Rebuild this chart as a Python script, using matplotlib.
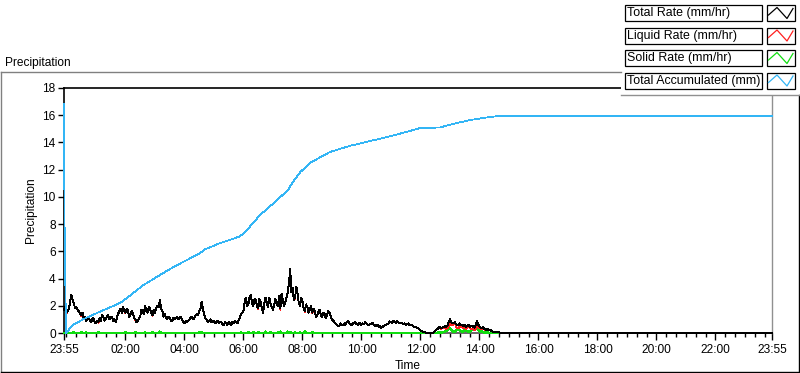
import numpy as np
import matplotlib
matplotlib.use("Agg")
import matplotlib.pyplot as plt
from matplotlib.patches import Rectangle

plt.rcParams['font.family'] = ['Liberation Sans', 'DejaVu Sans']

# ---------------- data ----------------
# rate series sampled every 2.5 minutes starting 23:55 (previous day) up to 14:55,
# followed by one final point at 23:55 (end of day); one line = 30 minutes
total_rate = [
    1.7, 1.9, 1.5, 1.6, 1.8, 2.3, 2.8, 2.4, 2.2, 1.8, 1.9, 1.7,
    1.6, 1.4, 1.3, 1.5, 1.1, 1.2, 0.9, 1.0, 1.2, 0.9, 0.8, 1.0,
    1.1, 0.8, 0.7, 0.9, 0.8, 1.1, 0.9, 1.3, 1.2, 0.9, 1.0, 1.2,
    1.3, 1.0, 1.1, 1.2, 0.9, 1.0, 0.8, 1.1, 1.4, 1.6, 1.8, 1.5,
    1.9, 1.6, 1.5, 1.8, 1.7, 1.2, 1.3, 1.6, 1.5, 1.1, 1.0, 0.8,
    0.9, 1.1, 1.2, 1.7, 1.6, 1.4, 2.0, 1.6, 1.5, 1.9, 1.8, 1.5,
    1.3, 1.7, 1.5, 1.8, 2.0, 1.9, 2.4, 1.8, 1.6, 1.2, 1.4, 1.1,
    1.0, 1.2, 1.1, 0.9, 0.9, 1.1, 1.0, 1.1, 1.2, 1.0, 1.1, 1.2,
    1.0, 0.8, 0.7, 0.9, 0.8, 0.9, 1.0, 1.1, 1.2, 1.0, 1.1, 1.3,
    1.4, 1.3, 1.6, 1.8, 2.3, 1.8, 1.4, 1.1, 1.0, 0.8, 0.9, 1.0,
    0.8, 0.9, 0.9, 0.7, 0.8, 0.9, 0.7, 0.8, 0.8, 0.6, 0.6, 0.8,
    0.7, 0.6, 0.8, 0.7, 0.6, 0.8, 0.7, 0.9, 0.8, 0.7, 0.9, 1.1,
    1.4, 1.5, 1.6, 2.3, 2.6, 2.0, 2.1, 2.7, 2.8, 2.2, 2.0, 2.5,
    2.4, 2.0, 1.8, 2.5, 2.3, 1.8, 1.5, 2.2, 2.6, 2.2, 1.9, 2.6,
    2.2, 1.9, 1.7, 2.1, 2.5, 2.2, 2.0, 2.7, 1.8, 2.9, 2.4, 2.0,
    2.2, 2.6, 3.0, 3.6, 4.7, 3.0, 3.3, 2.4, 2.6, 3.4, 2.9, 2.2,
    2.0, 2.6, 2.3, 1.8, 1.6, 2.1, 1.9, 1.5, 1.7, 2.0, 1.5, 1.8,
    1.6, 1.2, 1.3, 1.6, 1.7, 1.3, 1.2, 1.5, 1.4, 1.1, 1.3, 1.6,
    1.5, 1.2, 1.0, 0.9, 0.8, 0.7, 0.6, 0.5, 0.5, 0.7, 0.6, 0.6,
    0.7, 0.6, 0.8, 0.9, 0.7, 0.65, 0.6, 0.7, 0.75, 0.8, 0.65, 0.6,
    0.7, 0.75, 0.6, 0.7, 0.65, 0.8, 0.7, 0.6, 0.55, 0.65, 0.7, 0.75,
    0.6, 0.55, 0.5, 0.6, 0.45, 0.5, 0.4, 0.45, 0.5, 0.55, 0.6, 0.65,
    0.7, 0.85, 0.8, 0.75, 0.9, 0.8, 0.75, 0.85, 0.8, 0.7, 0.7, 0.75,
    0.65, 0.7, 0.6, 0.65, 0.7, 0.6, 0.55, 0.6, 0.5, 0.45, 0.45, 0.4,
    0.35, 0.3, 0.2, 0.15, 0.1, 0.07, 0.05, 0.02, 0.0, 0.0, 0.0, 0.0,
    0.0, 0.05, 0.15, 0.25, 0.3, 0.4, 0.45, 0.35, 0.4, 0.45, 0.5, 0.45,
    0.55, 0.8, 1.0, 0.8, 0.7, 0.75, 0.8, 0.65, 0.6, 0.55, 0.7, 0.6,
    0.55, 0.5, 0.6, 0.45, 0.5, 0.6, 0.45, 0.5, 0.55, 0.45, 0.4, 0.6,
    0.9, 0.6, 0.5, 0.4, 0.35, 0.45, 0.3, 0.25, 0.25, 0.3, 0.2, 0.2,
    0.15, 0.1, 0.1, 0.1, 0.1, 0.07, 0.05, 0.02, 0.0, 0.0, 0.0, 0.0,
    0.0,
    0.0]

liquid_rate = [
    1.7, 1.9, 1.45, 1.6, 1.8, 2.3, 2.8, 2.4, 2.15, 1.8, 1.9, 1.7,
    1.6, 1.4, 1.25, 1.5, 1.1, 1.2, 0.85, 1.0, 1.2, 0.9, 0.8, 1.0,
    1.1, 0.8, 0.7, 0.9, 0.75, 1.1, 0.9, 1.3, 1.2, 0.9, 1.0, 1.2,
    1.3, 1.0, 1.1, 1.2, 0.9, 1.0, 0.8, 1.1, 1.4, 1.6, 1.8, 1.5,
    1.9, 1.6, 1.45, 1.8, 1.7, 1.2, 1.3, 1.6, 1.5, 1.1, 0.95, 0.8,
    0.9, 1.1, 1.2, 1.7, 1.6, 1.4, 1.95, 1.6, 1.5, 1.9, 1.8, 1.5,
    1.25, 1.7, 1.5, 1.8, 2.0, 1.9, 2.3, 1.8, 1.6, 1.2, 1.4, 1.1,
    1.0, 1.2, 1.1, 0.9, 0.9, 1.1, 1.0, 1.1, 1.2, 1.0, 1.1, 1.2,
    1.0, 0.8, 0.7, 0.9, 0.8, 0.9, 1.0, 1.1, 1.2, 1.0, 1.1, 1.3,
    1.4, 1.3, 1.55, 1.8, 2.25, 1.8, 1.4, 1.1, 1.0, 0.8, 0.9, 1.0,
    0.8, 0.9, 0.9, 0.7, 0.8, 0.9, 0.7, 0.8, 0.8, 0.6, 0.6, 0.8,
    0.7, 0.6, 0.8, 0.7, 0.6, 0.8, 0.7, 0.9, 0.8, 0.7, 0.9, 1.1,
    1.35, 1.5, 1.6, 2.3, 2.6, 2.0, 2.05, 2.7, 2.8, 2.2, 1.95, 2.5,
    2.4, 2.0, 1.75, 2.5, 2.3, 1.8, 1.5, 2.2, 2.5, 2.2, 1.9, 2.6,
    2.15, 1.9, 1.7, 2.1, 2.5, 2.2, 1.95, 2.7, 1.7, 2.9, 2.4, 2.0,
    2.2, 2.6, 2.9, 3.6, 4.65, 3.0, 3.3, 2.4, 2.55, 3.4, 2.9, 2.2,
    1.95, 2.6, 2.3, 1.8, 1.5, 2.1, 1.9, 1.5, 1.7, 2.0, 1.45, 1.8,
    1.6, 1.2, 1.3, 1.6, 1.7, 1.3, 1.2, 1.5, 1.4, 1.1, 1.3, 1.6,
    1.5, 1.2, 1.0, 0.9, 0.8, 0.7, 0.6, 0.5, 0.5, 0.7, 0.6, 0.6,
    0.7, 0.6, 0.8, 0.9, 0.7, 0.65, 0.6, 0.7, 0.75, 0.8, 0.65, 0.6,
    0.7, 0.75, 0.6, 0.7, 0.65, 0.8, 0.7, 0.6, 0.55, 0.65, 0.7, 0.75,
    0.6, 0.55, 0.5, 0.6, 0.45, 0.5, 0.4, 0.45, 0.5, 0.55, 0.6, 0.65,
    0.7, 0.85, 0.8, 0.75, 0.9, 0.8, 0.75, 0.85, 0.8, 0.7, 0.7, 0.75,
    0.65, 0.7, 0.6, 0.65, 0.7, 0.6, 0.55, 0.6, 0.5, 0.45, 0.45, 0.4,
    0.35, 0.3, 0.2, 0.15, 0.1, 0.07, 0.05, 0.02, 0.0, 0.0, 0.0, 0.0,
    0.0, 0.05, 0.15, 0.25, 0.28, 0.37, 0.4, 0.3, 0.35, 0.37, 0.4, 0.3,
    0.35, 0.5, 0.65, 0.55, 0.55, 0.65, 0.7, 0.45, 0.35, 0.35, 0.5, 0.45,
    0.45, 0.35, 0.4, 0.3, 0.35, 0.5, 0.35, 0.3, 0.3, 0.25, 0.2, 0.3,
    0.55, 0.4, 0.35, 0.3, 0.25, 0.4, 0.25, 0.2, 0.2, 0.28, 0.2, 0.2,
    0.15, 0.1, 0.1, 0.1, 0.1, 0.07, 0.05, 0.02, 0.0, 0.0, 0.0, 0.0,
    0.0,
    0.0]

solid_rate = [
    0, 0, 0.05, 0, 0, 0, 0, 0, 0.05, 0, 0, 0,
    0, 0, 0.05, 0, 0, 0, 0.05, 0, 0, 0, 0, 0,
    0, 0, 0, 0, 0.05, 0, 0, 0, 0, 0, 0, 0,
    0, 0, 0, 0, 0, 0, 0, 0, 0, 0, 0, 0,
    0, 0, 0.05, 0, 0, 0, 0, 0, 0, 0, 0.05, 0,
    0, 0, 0, 0, 0, 0, 0.05, 0, 0, 0, 0, 0,
    0.05, 0, 0, 0, 0, 0, 0.1, 0, 0, 0, 0, 0,
    0, 0, 0, 0, 0, 0, 0, 0, 0, 0, 0, 0,
    0, 0, 0, 0, 0, 0, 0, 0, 0, 0, 0, 0,
    0, 0, 0.05, 0, 0.05, 0, 0, 0, 0, 0, 0, 0,
    0, 0, 0, 0, 0, 0, 0, 0, 0, 0, 0, 0,
    0, 0, 0, 0, 0, 0, 0, 0, 0, 0, 0, 0,
    0.05, 0, 0, 0, 0, 0, 0.05, 0, 0, 0, 0.05, 0,
    0, 0, 0.05, 0, 0, 0, 0, 0, 0.1, 0, 0, 0,
    0.05, 0, 0, 0, 0, 0, 0.05, 0, 0.1, 0, 0, 0,
    0, 0, 0.1, 0, 0.05, 0, 0, 0, 0.05, 0, 0, 0,
    0.05, 0, 0, 0, 0.1, 0, 0, 0, 0, 0, 0.05, 0,
    0, 0, 0, 0, 0, 0, 0, 0, 0, 0, 0, 0,
    0, 0, 0, 0, 0, 0, 0, 0, 0, 0, 0, 0,
    0, 0, 0, 0, 0, 0, 0, 0, 0, 0, 0, 0,
    0, 0, 0, 0, 0, 0, 0, 0, 0, 0, 0, 0,
    0, 0, 0, 0, 0, 0, 0, 0, 0, 0, 0, 0,
    0, 0, 0, 0, 0, 0, 0, 0, 0, 0, 0, 0,
    0, 0, 0, 0, 0, 0, 0, 0, 0, 0, 0, 0,
    0, 0, 0, 0, 0, 0, 0, 0, 0, 0, 0, 0,
    0, 0, 0, 0, 0.02, 0.03, 0.05, 0.05, 0.05, 0.08, 0.1, 0.15,
    0.2, 0.3, 0.35, 0.25, 0.15, 0.1, 0.1, 0.2, 0.25, 0.2, 0.2, 0.15,
    0.1, 0.15, 0.2, 0.15, 0.15, 0.1, 0.1, 0.2, 0.25, 0.2, 0.2, 0.3,
    0.35, 0.2, 0.15, 0.1, 0.1, 0.05, 0.05, 0.05, 0.05, 0.02, 0, 0,
    0, 0, 0, 0, 0, 0, 0, 0, 0, 0, 0, 0,
    0,
    0]

# total accumulated: (hours since midnight, mm)
acc_hours = [-0.0833, -0.066, -0.0155, 0.222, 0.561, 1.137, 1.713, 1.917, 2.595, 2.934,
             3.51, 3.849, 4.527, 4.697, 5.205, 5.883, 6.12, 6.561, 7.0, 7.51, 7.646,
             7.917, 8.256, 8.934, 9.61, 10.29, 10.97, 11.65, 11.98, 12.66, 13.0,
             13.68, 14.36, 14.7, 23.9167]
acc_values = [16.8, 8.4, 0.0, 0.59, 1.0, 1.57, 2.1, 2.35, 3.5, 3.95,
              4.7, 5.1, 5.86, 6.15, 6.6, 7.1, 7.57, 8.67, 9.5, 10.5, 11.0,
              11.8, 12.5, 13.3, 13.75, 14.1, 14.45, 14.85, 15.05, 15.1, 15.3,
              15.65, 15.87, 15.95, 15.95]

series_names = ["Total Rate (mm/hr)", "Liquid Rate (mm/hr)",
                "Solid Rate (mm/hr)", "Total Accumulated (mm)"]
series_colors = ["#000000", "#ff2020", "#10dd10", "#33b5f5"]

x_tick_labels = ["23:55", "02:00", "04:00", "06:00", "08:00", "10:00", "12:00",
                 "14:00", "16:00", "18:00", "20:00", "22:00", "23:55"]

# ---------------- figure ----------------
W, H = 800, 373
fig = plt.figure(figsize=(W / 100, H / 100), dpi=100)
fig.patch.set_facecolor("white")

x0, x1, ytop, ybot = 64, 772, 88, 333
ax = fig.add_axes([x0 / W, 1 - ybot / H, (x1 - x0) / W, (ybot - ytop) / H])

start_h = -5 / 60
end_h = 24 - 5 / 60
n = len(total_rate) - 1
rate_t = np.append(start_h + np.arange(n) * 2.5 / 60, end_h)

lw1 = 0.55
ax.plot(rate_t, solid_rate, color=series_colors[2], lw=1.0, zorder=3, clip_on=False, antialiased=False)
ax.plot(rate_t, liquid_rate, color=series_colors[1], lw=lw1, zorder=4, antialiased=False)
ax.plot(rate_t, total_rate, color=series_colors[0], lw=0.7, zorder=5, clip_on=False, antialiased=False)
ax.plot(acc_hours, acc_values, color=series_colors[3], lw=lw1, zorder=6, clip_on=False, antialiased=False)

ax.set_xlim(start_h, end_h)
ax.set_ylim(0, 18)
ax.set_yticks(np.arange(0, 19, 2))
ax.set_yticklabels([str(v) for v in range(0, 19, 2)])
major = [start_h] + list(range(2, 23, 2)) + [end_h]
ax.set_xticks(major)
ax.set_xticklabels(x_tick_labels)
ax.set_xticks(np.arange(0, 24, 1 / 3), minor=True)

fs = 8.6
ax.tick_params(axis='y', direction='out', length=4, width=1, pad=2, labelsize=fs, colors='black')
ax.tick_params(axis='x', which='major', direction='out', length=5, width=1, pad=3, labelsize=fs)
ax.tick_params(axis='x', which='minor', direction='out', length=3, width=1)
for s in ['top', 'left']:
    ax.spines[s].set_color('black')
    ax.spines[s].set_linewidth(1.2)
ax.spines['bottom'].set_color('#505050')
ax.spines['bottom'].set_linewidth(1.2)
ax.spines['right'].set_color('#909090')
ax.spines['right'].set_linewidth(1.0)

fig.text(31 / W, 1 - 210 / H, "Precipitation", rotation=90, ha='center', va='center', fontsize=fs)
fig.text(408 / W, 1 - 366 / H, "Time", ha='center', va='center', fontsize=fs)
fig.text(5 / W, 1 - 63 / H, "Precipitation", ha='left', va='center', fontsize=fs)

# ---------------- overlay: frame and legend (pixel coordinates) ----------------
ov = fig.add_axes([0, 0, 1, 1], zorder=10)
ov.set_xlim(0, W)
ov.set_ylim(H, 0)
ov.axis('off')
ov.patch.set_alpha(0)

ov.plot([0.5, 0.5], [71.5, 371.5], color='#808080', lw=1.0)
ov.plot([0.5, 621], [71.5, 71.5], color='#808080', lw=1.0)
ov.plot([0.5, 798.5], [371.5, 371.5], color='black', lw=1.0)
ov.plot([798.5, 798.5], [94.5, 371.5], color='black', lw=1.0)

ov.add_patch(Rectangle((621, 0), 179, 94.5, facecolor='white', edgecolor='none', zorder=1))
ov.plot([621, 800], [94.5, 94.5], color='#909090', lw=1.0, zorder=2)

row_tops = [5, 27.5, 50, 72.5]
for name, col, yt in zip(series_names, series_colors, row_tops):
    ov.add_patch(Rectangle((625, yt), 137, 16, facecolor='white', edgecolor='black', lw=0.9, zorder=3))
    ov.add_patch(Rectangle((766.5, yt), 28.5, 16, facecolor='white', edgecolor='black', lw=0.9, zorder=3))
    ov.text(627, yt + 8.3, name, ha='left', va='center', fontsize=8.9, zorder=4)
    ov.plot([768.5, 777, 787, 793], [yt + 10, yt + 2.5, yt + 13.5, yt + 3.5], color=col, lw=0.9, zorder=4)

fig.savefig("out.png", dpi=100, facecolor="white")
